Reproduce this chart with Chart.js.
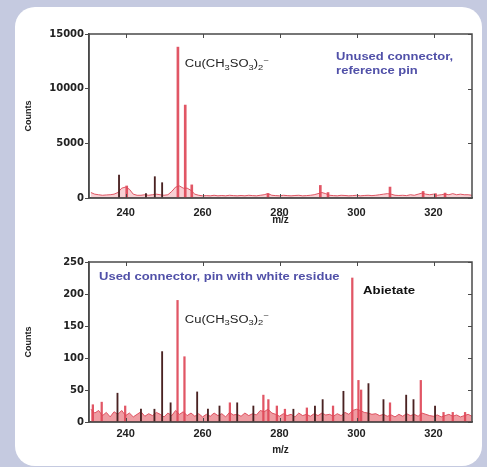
<!DOCTYPE html>
<html><head><meta charset="utf-8">
<script src="https://cdn.jsdelivr.net/npm/chart.js@4.4.0/dist/chart.umd.min.js"></script>
<style>
html,body{margin:0;padding:0;width:487px;height:467px;background:#c5cae0;overflow:hidden;position:relative;}
#panel{position:absolute;left:15px;top:7px;width:467px;height:459px;background:#fff;border-radius:20px;}
.wrap{position:absolute;left:0;width:487px;height:240px;}
canvas{display:block;}
</style></head><body>
<div id="panel"></div>
<div class="wrap" style="top:0px"><canvas id="c1" width="487" height="240"></canvas></div>
<div class="wrap" style="top:228px"><canvas id="c2" width="487" height="240"></canvas></div>
<script>
// ---------- data ----------
const mzTicks = [240, 260, 280, 300, 320];
const topCountTicks = [0, 5000, 10000, 15000];
const bottomCountTicks = [0, 50, 100, 150, 200, 250];

const noiseMz = [231,232,233,234,235,236,237,238,239,240,
 241,242,243,244,245,246,247,248,249,250,
 251,252,253,254,255,256,257,258,259,260,
 261,262,263,264,265,266,267,268,269,270,
 271,272,273,274,275,276,277,278,279,280,
 281,282,283,284,285,286,287,288,289,290,
 291,292,293,294,295,296,297,298,299,300,
 301,302,303,304,305,306,307,308,309,310,
 311,312,313,314,315,316,317,318,319,320,
 321,322,323,324,325,326,327,328,329,330];

const topNoise = [500,350,300,250,280,300,350,500,900,1000,
 800,350,250,250,300,250,300,350,300,250,
 300,600,1000,1100,900,900,700,350,250,200,
 220,200,250,200,230,200,250,220,200,230,
 200,250,220,200,250,300,400,250,220,200,
 250,220,200,230,250,200,220,250,300,400,
 500,400,250,220,200,250,230,200,220,250,
 200,230,250,220,250,300,350,400,350,250,
 230,250,220,300,250,350,450,350,300,350,
 250,300,350,300,400,300,350,300,300,250];

const bottomNoise = [20,14,18,10,15,8,16,12,18,10,
 14,8,12,16,9,13,10,15,12,8,
 14,10,18,12,16,10,14,9,13,8,
 12,9,14,10,13,8,15,11,12,9,
 14,10,13,11,18,16,20,14,12,9,
 13,10,12,8,14,10,12,9,13,10,
 14,11,12,9,13,10,15,12,18,20,
 18,15,14,12,13,10,12,9,11,8,
 12,9,13,10,12,9,14,12,10,9,
 11,8,10,12,9,11,8,10,12,9];

const topRedMz     = [240.3, 253.6, 255.5, 257.2, 277.0, 290.6, 292.6, 308.7, 317.3, 320.5, 323.0];
const topRedCounts = [1100, 13800, 8500, 1200, 400, 1150, 500, 1000, 600, 400, 450];
const topDarkMz     = [238.3, 245.3, 247.6, 249.5];
const topDarkCounts = [2100, 400, 1950, 1400];

const bottomRedMz     = [231.5, 233.8, 239.9, 253.5, 255.3, 267.1, 275.8, 277.1, 279.3, 281.4, 287.1, 293.9, 298.9, 300.5, 301.2, 308.7, 316.7, 322.6, 325.0, 328.2];
const bottomRedCounts = [27, 31, 25, 190, 102, 30, 42, 35, 25, 20, 22, 25, 225, 65, 50, 30, 65, 15, 15, 15];
const bottomDarkMz     = [237.9, 244.0, 247.5, 249.5, 251.7, 258.6, 261.4, 264.4, 269.0, 273.2, 283.6, 289.2, 291.2, 296.6, 303.1, 307.0, 312.9, 314.8, 320.4];
const bottomDarkCounts = [45, 20, 20, 110, 30, 47, 20, 25, 30, 25, 20, 25, 35, 48, 60, 35, 42, 35, 25];

// ---------- helpers ----------
function pts(xs, ys){ return xs.map((x,i)=>({x:x, y:ys[i]})); }

const frameTicks = {
  id:'frameTicks',
  afterDatasetsDraw(chart){
    const ctx = chart.ctx, a = chart.chartArea, x = chart.scales.x, y = chart.scales.y;
    ctx.save();
    ctx.strokeStyle = '#4a4a4a';
    ctx.lineWidth = 1;
    ctx.beginPath();
    x.ticks.forEach(t=>{
      const px = Math.round(x.getPixelForValue(t.value)) + 0.5;
      ctx.moveTo(px, a.top); ctx.lineTo(px, a.top + 4);
      ctx.moveTo(px, a.bottom); ctx.lineTo(px, a.bottom - 4);
    });
    y.ticks.forEach(t=>{
      const py = Math.round(y.getPixelForValue(t.value)) + 0.5;
      ctx.moveTo(a.right, py); ctx.lineTo(a.right - 4, py);
    });
    ctx.stroke();
    ctx.lineWidth = 1.5;
    ctx.strokeRect(a.left, a.top, a.right - a.left, a.bottom - a.top);
    ctx.restore();
  }
};

function notesPlugin(items){
  return {
    id:'notes',
    afterDatasetsDraw(chart){
      const ctx = chart.ctx, x = chart.scales.x, y = chart.scales.y;
      items.forEach(n=>{
        const px = x.getPixelForValue(n.x), py = y.getPixelForValue(n.y);
        ctx.save();
        ctx.translate(px, py);
        ctx.scale(n.stretch || 1, 1);
        ctx.fillStyle = n.color;
        ctx.textBaseline = 'middle';
        ctx.textAlign = 'left';
        let cx = 0;
        n.parts.forEach(p=>{
          const size = p.s ? n.size * 0.72 : n.size;
          ctx.font = n.weight + ' ' + size + 'px ' + n.family;
          const dy = p.s === 1 ? n.size * 0.32 : (p.s === 2 ? -n.size * 0.35 : 0);
          ctx.fillText(p.t, cx, dy);
          cx += ctx.measureText(p.t).width;
        });
        ctx.restore();
      });
    }
  };
}

const cuParts = [{t:'Cu(CH'},{t:'3',s:1},{t:'SO'},{t:'3',s:1},{t:')'},{t:'2',s:1},{t:'\u2212',s:2}];
const FAM = '"Liberation Sans", Arial, sans-serif';

function makeChart(id, cfg){
  return new Chart(document.getElementById(id), {
    type:'bar',
    data:{ datasets:[
      { type:'line', data: pts(noiseMz, cfg.noise), borderColor:'rgba(220,70,85,0.9)', borderWidth:1,
        backgroundColor: cfg.noiseFill, fill:'origin', pointRadius:0, tension:0, order:3 },
      { type:'bar', data: pts(cfg.redMz, cfg.redCounts), backgroundColor:'rgba(222,72,88,0.92)',
        barThickness:cfg.redW, grouped:false, order:2 },
      { type:'bar', data: pts(cfg.darkMz, cfg.darkCounts), backgroundColor:'#4a2222',
        barThickness:1.2, grouped:false, order:1 }
    ]},
    options:{
      responsive:false, animation:false, devicePixelRatio:1,
      layout:{ padding:{ left:18, right:15, top:34, bottom:cfg.padBottom } },
      plugins:{ legend:{display:false}, tooltip:{enabled:false} },
      scales:{
        x:{ type:'linear', min:230.5, max:330, offset:false,
            afterBuildTicks:(s)=>{ s.ticks = mzTicks.map(v=>({value:v})); },
            afterFit:(s)=>{ s.height = cfg.xHeight; },
            grid:{ display:false, drawTicks:false },
            border:{ display:true, color:'#4a4a4a', width:1.5 },
            ticks:{ color:'#222', padding:cfg.xTickPad, maxRotation:0, autoSkip:false,
                    font:{ family:FAM, weight:'bold', size:11 }, callback:(v)=>String(v) },
            title:{ display:true, text:'m/z', color:'#222', padding:{top:0,bottom:2},
                    font:{ family:FAM, weight:'bold', size:10 } } },
        y:{ min:0, max:cfg.yMax,
            afterBuildTicks:(s)=>{ s.ticks = cfg.yTicks.map(v=>({value:v})); },
            afterFit:(s)=>{ s.width = 71; },
            grid:{ display:true, drawOnChartArea:false, drawTicks:true, tickLength:4, color:'#4a4a4a' },
            border:{ display:true, color:'#4a4a4a', width:1.5 },
            ticks:{ color:'#222', padding:1, autoSkip:false,
                    font:{ family:'"DejaVu Sans", sans-serif', weight:'bold', size:10 }, callback:(v)=>String(v) },
            title:{ display:true, text:'Counts', color:'#222', padding:{top:5,bottom:0},
                    font:{ family:FAM, weight:'bold', size:9 } } }
      }
    },
    plugins:[frameTicks, notesPlugin(cfg.notes)]
  });
}

makeChart('c1', {
  noise: topNoise, noiseFill:'rgba(240,150,160,0.45)',
  redMz: topRedMz, redCounts: topRedCounts, darkMz: topDarkMz, darkCounts: topDarkCounts,
  yMax:15000, yTicks: topCountTicks, padBottom:12, xHeight:30, xTickPad:8, redW:2,
  notes:[
    {x:255.4, y:12200, parts:cuParts, size:10, weight:'normal', family:FAM, color:'#222', stretch:1.3},
    {x:294.7, y:12850, parts:[{t:'Unused connector,'}], size:10, weight:'bold', family:FAM, color:'#5050a8', stretch:1.3},
    {x:294.7, y:11550, parts:[{t:'reference pin'}], size:10, weight:'bold', family:FAM, color:'#5050a8', stretch:1.3}
  ]
});

makeChart('c2', {
  noise: bottomNoise, noiseFill:'rgba(228,90,100,0.6)',
  redMz: bottomRedMz, redCounts: bottomRedCounts, darkMz: bottomDarkMz, darkCounts: bottomDarkCounts,
  yMax:250, yTicks: bottomCountTicks, padBottom:10, xHeight:36, xTickPad:5, redW:1.6,
  notes:[
    {x:233.1, y:226.5, parts:[{t:'Used connector, pin with white residue'}], size:10, weight:'bold', family:FAM, color:'#5050a8', stretch:1.3},
    {x:301.7, y:204.5, parts:[{t:'Abietate'}], size:11, weight:'bold', family:FAM, color:'#111', stretch:1.2},
    {x:255.4, y:159.5, parts:cuParts, size:10, weight:'normal', family:FAM, color:'#222', stretch:1.3}
  ]
});
</script>
</body></html>
